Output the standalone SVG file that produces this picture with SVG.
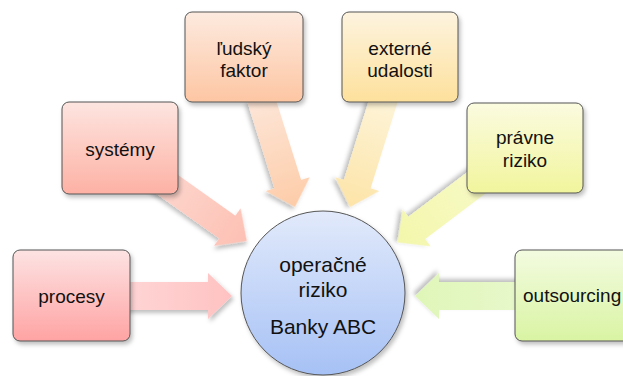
<svg xmlns="http://www.w3.org/2000/svg" width="623" height="376" viewBox="0 0 623 376">
  <defs>
    <filter id="shadow" x="-20%" y="-20%" width="140%" height="140%">
      <feDropShadow dx="2" dy="3" stdDeviation="2" flood-color="#000" flood-opacity="0.25"/>
    </filter>
    <!-- box fills -->
    <linearGradient id="gProcesy" x1="0" y1="0" x2="0" y2="1">
      <stop offset="0" stop-color="#fde3e3"/><stop offset="1" stop-color="#ffa3a3"/>
    </linearGradient>
    <linearGradient id="gSystemy" x1="0" y1="0" x2="0" y2="1">
      <stop offset="0" stop-color="#fde5e0"/><stop offset="1" stop-color="#fdb1a4"/>
    </linearGradient>
    <linearGradient id="gLudsky" x1="0" y1="0" x2="0" y2="1">
      <stop offset="0" stop-color="#fdeadf"/><stop offset="1" stop-color="#fdc6a3"/>
    </linearGradient>
    <linearGradient id="gExterne" x1="0" y1="0" x2="0" y2="1">
      <stop offset="0" stop-color="#fdf4df"/><stop offset="1" stop-color="#fde09c"/>
    </linearGradient>
    <linearGradient id="gPravne" x1="0" y1="0" x2="0" y2="1">
      <stop offset="0" stop-color="#fbfbe0"/><stop offset="1" stop-color="#f1f59c"/>
    </linearGradient>
    <linearGradient id="gOutsourcing" x1="0" y1="0" x2="0" y2="1">
      <stop offset="0" stop-color="#f3fbe0"/><stop offset="1" stop-color="#d9f4a3"/>
    </linearGradient>
    <linearGradient id="gCenter" x1="0" y1="0" x2="0" y2="1">
      <stop offset="0" stop-color="#e2eafb"/><stop offset="1" stop-color="#a6c1f5"/>
    </linearGradient>
    <!-- arrow fills, running from tail to tip -->
    <linearGradient id="aProcesy" x1="0" y1="0" x2="1" y2="0">
      <stop offset="0" stop-color="#ffd6d6"/><stop offset="1" stop-color="#ffc2c2"/>
    </linearGradient>
    <linearGradient id="aSystemy" x1="0" y1="0" x2="1" y2="0">
      <stop offset="0" stop-color="#fdd9d1"/><stop offset="1" stop-color="#fdc0b3"/>
    </linearGradient>
    <linearGradient id="aLudsky" x1="0" y1="0" x2="1" y2="0">
      <stop offset="0" stop-color="#fde6d8"/><stop offset="1" stop-color="#fdcca8"/>
    </linearGradient>
    <linearGradient id="aExterne" x1="0" y1="0" x2="1" y2="0">
      <stop offset="0" stop-color="#fdf4d8"/><stop offset="1" stop-color="#fde4a8"/>
    </linearGradient>
    <linearGradient id="aPravne" x1="0" y1="0" x2="1" y2="0">
      <stop offset="0" stop-color="#f8fac8"/><stop offset="1" stop-color="#f3f7ab"/>
    </linearGradient>
    <linearGradient id="aOutsourcing" x1="0" y1="0" x2="1" y2="0">
      <stop offset="0" stop-color="#e8f8cc"/><stop offset="1" stop-color="#dff6b8"/>
    </linearGradient>
  </defs>
  <style>
    .box { stroke: #555; stroke-width: 1; filter: url(#shadow); }
    .arrow { filter: url(#shadow); }
    .lbl { font-family: "Liberation Sans", Arial, sans-serif; font-size: 19px; fill: #111; text-anchor: middle; }
    .clbl { font-family: "Liberation Sans", Arial, sans-serif; font-size: 21px; fill: #111; text-anchor: middle; }
  </style>

  <rect width="623" height="376" fill="#fff"/>

  <!-- block arrows pointing at the centre circle -->
  <g id="connectors">
    <path class="arrow" fill="url(#aProcesy)" transform="translate(120,296)" d="M0,-14 H88 V-23 L112,0 L88,23 V14 H0 Z"/>
    <path class="arrow" fill="url(#aSystemy)" transform="translate(149,171.5) rotate(35.4)" d="M0,-14 H96 V-23 L120,0 L96,23 V14 H0 Z"/>
    <path class="arrow" fill="url(#aLudsky)" transform="translate(260.5,97.3) rotate(72.55)" d="M0,-14 H91 V-23 L115,0 L91,23 V14 H0 Z"/>
    <path class="arrow" fill="url(#aExterne)" transform="translate(384.5,97.3) rotate(107.45)" d="M0,-14 H91 V-23 L115,0 L91,23 V14 H0 Z"/>
    <path class="arrow" fill="url(#aPravne)" transform="translate(493.3,170) rotate(142.9)" d="M0,-14 H96 V-23 L120,0 L96,23 V14 H0 Z"/>
    <path class="arrow" fill="url(#aOutsourcing)" transform="translate(530,296) rotate(180)" d="M0,-14 H91 V-23 L115,0 L91,23 V14 H0 Z"/>
  </g>

  <g id="procesy">
    <rect class="box" x="13" y="250" width="117" height="91" rx="7" fill="url(#gProcesy)"/>
    <text class="lbl" x="71.5" y="303">procesy</text>
  </g>

  <g id="systemy">
    <rect class="box" x="62" y="102" width="116" height="92" rx="7" fill="url(#gSystemy)"/>
    <text class="lbl" x="120" y="156">systémy</text>
  </g>

  <g id="ludsky-faktor">
    <rect class="box" x="185" y="12" width="118" height="90" rx="7" fill="url(#gLudsky)"/>
    <text class="lbl" x="244" y="55">ľudský</text>
    <text class="lbl" x="244" y="77">faktor</text>
  </g>

  <g id="externe-udalosti">
    <rect class="box" x="342" y="12" width="116" height="90" rx="7" fill="url(#gExterne)"/>
    <text class="lbl" x="400" y="55">externé</text>
    <text class="lbl" x="400" y="77">udalosti</text>
  </g>

  <g id="pravne-riziko">
    <rect class="box" x="467" y="103" width="116" height="90" rx="7" fill="url(#gPravne)"/>
    <text class="lbl" x="525" y="144">právne</text>
    <text class="lbl" x="525" y="167">riziko</text>
  </g>

  <g id="outsourcing">
    <rect class="box" x="515" y="250" width="116" height="91" rx="7" fill="url(#gOutsourcing)"/>
    <text class="lbl" x="523" y="302" style="text-anchor:start">outsourcing</text>
  </g>

  <g id="operacne-riziko">
    <circle class="box" cx="323" cy="293" r="82" fill="url(#gCenter)"/>
    <text class="clbl" x="323" y="272">operačné</text>
    <text class="clbl" x="323" y="297">riziko</text>
    <text class="clbl" x="323" y="334">Banky ABC</text>
  </g>
</svg>
